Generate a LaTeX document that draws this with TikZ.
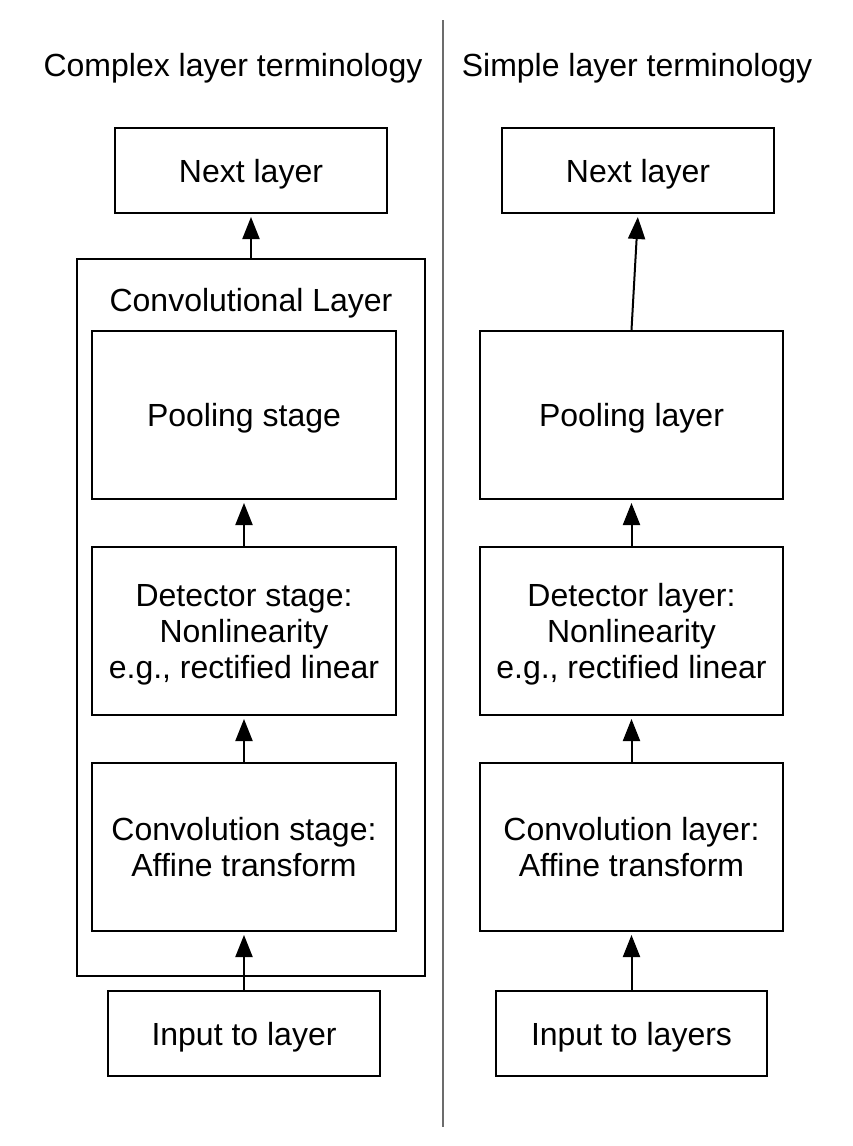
\documentclass[tikz,border=0pt]{standalone}
\usepackage{fontspec}
\setmainfont{Liberation Sans}
\usetikzlibrary{arrows.meta}
\begin{document}
\begin{tikzpicture}[x=1pt,y=-1pt,
  box/.style={draw=black,line width=2pt,rectangle,inner sep=0pt,align=center,
    text depth=0pt,font=\fontsize{32}{36}\selectfont},
  bigbox/.style={box,minimum width=304pt,minimum height=168pt},
  smallbox/.style={box,minimum width=272pt,minimum height=85pt},
  title/.style={font=\fontsize{32}{36}\selectfont,inner sep=0pt,text depth=0pt},
  arr/.style={line width=2pt,-{Triangle[length=22pt,width=17pt]},shorten >=3pt}
]
\useasboundingbox (0,0) rectangle (852,1146);
\fill[white] (0,0) rectangle (852,1146);
% divider
\coordinate (dtop) at (443,20);
\coordinate (dbot) at (443,1127);
\draw[line width=2pt,draw=gray!85!black] (dtop) -- (dbot);
% titles
\node[title] (t1) at (233,65) {Complex layer terminology};
\node[title] (t2) at (637,65) {Simple layer terminology};
% left column
\node[smallbox] (next1) at (251,170.5) {Next layer};
\node[box,minimum width=348pt,minimum height=717pt] (conv) at (251,617.5) {};
\node[title] (convlabel) at (251,300) {Convolutional Layer};
\node[bigbox] (pool1) at (244,415) {Pooling stage};
\node[bigbox] (det1) at (244,631) {Detector stage:\\Nonlinearity\\e.g., rectified linear};
\node[bigbox] (cst1) at (244,847) {Convolution stage:\\Affine transform};
\node[smallbox] (in1) at (244,1033.5) {Input to layer};
\draw[arr] (in1.north) -- (cst1.south);
\draw[arr] (cst1.north) -- (det1.south);
\draw[arr] (det1.north) -- (pool1.south);
\draw[arr] (conv.north) -- (next1.south);
% right column
\node[smallbox] (next2) at (638,170.5) {Next layer};
\node[bigbox,minimum width=303pt] (pool2) at (631.5,415) {Pooling layer};
\node[bigbox,minimum width=303pt] (det2) at (631.5,631) {Detector layer:\\Nonlinearity\\e.g., rectified linear};
\node[bigbox,minimum width=303pt] (cst2) at (631.5,847) {Convolution layer:\\Affine transform};
\node[smallbox,minimum width=271pt] (in2) at (631.5,1033.5) {Input to layers};
\draw[arr] (in2.north) -- (cst2.south);
\draw[arr] (cst2.north) -- (det2.south);
\draw[arr] (det2.north) -- (pool2.south);
\draw[arr] (pool2.north) -- (next2.south);
\end{tikzpicture}
\end{document}
